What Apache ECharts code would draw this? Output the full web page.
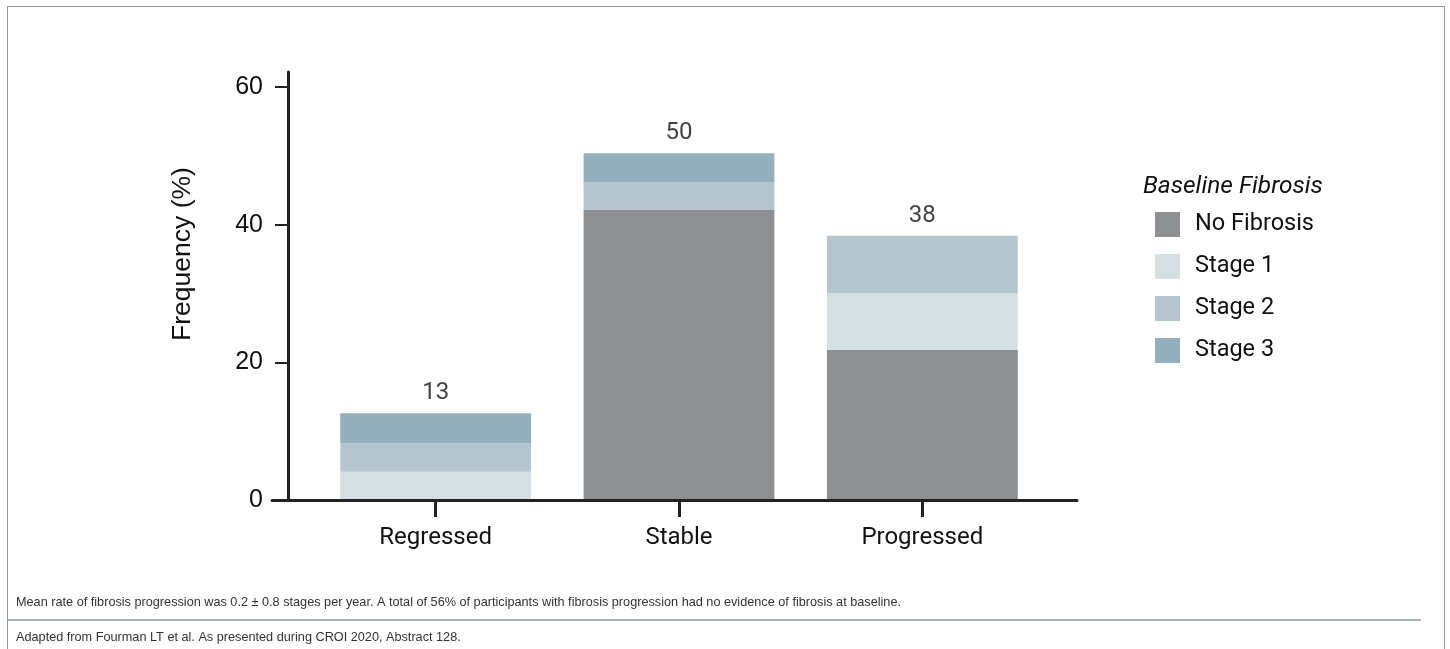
<!DOCTYPE html>
<html>
<head>
<meta charset="utf-8">
<script src="https://cdn.jsdelivr.net/npm/echarts@6/dist/echarts.min.js"></script>
<style>
  html, body { margin: 0; padding: 0; background: #fff; }
  #frame { position: absolute; left: 7px; top: 6px; width: 1438px; height: 700px;
           border: 1.5px solid #999; border-bottom: none; box-sizing: border-box; }
  #chart { position: absolute; left: 0; top: 0; width: 1450px; height: 649px; }
</style>
</head>
<body>
<div id="frame"></div>
<div id="chart"></div>
<script>
// Fibrosis change categories and stacked frequencies (%) by baseline stage
const categories = ['Regressed', 'Stable', 'Progressed'];
const stageNames = ['No Fibrosis', 'Stage 1', 'Stage 2', 'Stage 3'];
const noFibrosis = [0, 42.2, 21.8];
const stage1 = [4.1, 0, 8.3];
const stage2 = [4.1, 4.0, 8.3];
const stage3 = [4.4, 4.2, 0];
const yTicks = [0, 20, 40, 60];
const stageColors = ['#8e8f93', '#d4dfe4', '#b3c5cf', '#94afbd'];

const stageValues = [noFibrosis, stage1, stage2, stage3];
const totals = categories.map((_, i) => stageValues.reduce((s, arr) => s + arr[i], 0));

const tickFont = '"Liberation Sans", Arial, sans-serif';
const dinFont = 'Roboto, "Noto Sans", sans-serif';
const noteFont = '12.7px "Liberation Sans", Arial, sans-serif';
const axisColor = '#222';

const chart = echarts.init(document.getElementById('chart'), null, { renderer: 'canvas' });

const barSeries = stageNames.map((name, k) => ({
  name: name,
  type: 'bar',
  stack: 'freq',
  xAxisIndex: 0,
  yAxisIndex: 0,
  barWidth: '78.4%',
  itemStyle: { color: stageColors[k] },
  emphasis: { disabled: true },
  data: stageValues[k]
}));

chart.setOption({
  animation: false,
  backgroundColor: 'transparent',
  grid: [
    { left: 314, right: 406, top: 72, bottom: 149 },
    { left: 272, right: 373, top: 72, bottom: 149 }
  ],
  xAxis: [
    {
      type: 'category',
      gridIndex: 0,
      data: categories,
      axisLine: { show: false },
      axisTick: { show: true, alignWithLabel: true, length: 17, lineStyle: { color: axisColor, width: 3 } },
      axisLabel: { margin: 26, fontSize: 24, color: '#111', fontFamily: dinFont },
      z: 5
    },
    {
      type: 'value',
      gridIndex: 1,
      min: 0, max: 1,
      axisLine: { show: true, lineStyle: { color: axisColor, width: 3 } },
      axisTick: { show: false },
      axisLabel: { show: false },
      splitLine: { show: false },
      z: 6
    }
  ],
  yAxis: [
    {
      type: 'value',
      gridIndex: 0,
      min: 0, max: 62.2,
      interval: 20,
      offset: 26,
      axisLine: { show: true, lineStyle: { color: axisColor, width: 3 } },
      axisTick: { show: true, length: 13, customValues: yTicks, lineStyle: { color: axisColor, width: 2 } },
      axisLabel: { customValues: yTicks, margin: 25, fontSize: 25, color: '#111', fontFamily: tickFont },
      splitLine: { show: false }
    },
    {
      type: 'value',
      gridIndex: 1,
      min: 0, max: 1,
      show: false
    }
  ],
  legend: {
    orient: 'vertical',
    left: 1155,
    top: 212,
    padding: 0,
    itemWidth: 25,
    itemHeight: 25,
    itemGap: 17,
    icon: 'rect',
    data: stageNames,
    selectedMode: false,
    textStyle: { fontSize: 23.5, color: '#111', fontFamily: dinFont, padding: [0, 0, 0, 10] }
  },
  graphic: [
    {
      type: 'text', x: 183, y: 254, rotation: Math.PI / 2,
      style: { text: 'Frequency (%)', font: '26.5px ' + tickFont, fill: '#111',
               textAlign: 'center', textVerticalAlign: 'middle' }
    },
    {
      type: 'text', x: 1143, y: 187,
      style: { text: 'Baseline Fibrosis', font: 'italic 24.5px ' + dinFont, fill: '#111',
               textAlign: 'left', textVerticalAlign: 'middle' }
    },
    {
      type: 'text', x: 16, y: 602,
      style: { text: 'Mean rate of fibrosis progression was 0.2 \u00b1 0.8 stages per year. A total of 56% of participants with fibrosis progression had no evidence of fibrosis at baseline.',
               font: noteFont, fill: '#333', textAlign: 'left', textVerticalAlign: 'middle' }
    },
    {
      type: 'line', shape: { x1: 7, y1: 620, x2: 1421, y2: 620 },
      style: { stroke: '#8c99a3', lineWidth: 1.5 }
    },
    {
      type: 'text', x: 16, y: 637,
      style: { text: 'Adapted from Fourman LT et al. As presented during CROI 2020, Abstract 128.',
               font: noteFont, fill: '#333', textAlign: 'left', textVerticalAlign: 'middle' }
    }
  ],
  series: barSeries.concat([
    {
      name: 'total',
      type: 'scatter',
      xAxisIndex: 0,
      yAxisIndex: 0,
      symbolSize: 0,
      silent: true,
      label: {
        show: true,
        position: 'top',
        distance: 8,
        fontSize: 24,
        color: '#111',
        fontFamily: dinFont,
        formatter: p => String(Math.round(p.value[1]))
      },
      data: categories.map((c, i) => [c, totals[i]])
    }
  ])
});
</script>
</body>
</html>
